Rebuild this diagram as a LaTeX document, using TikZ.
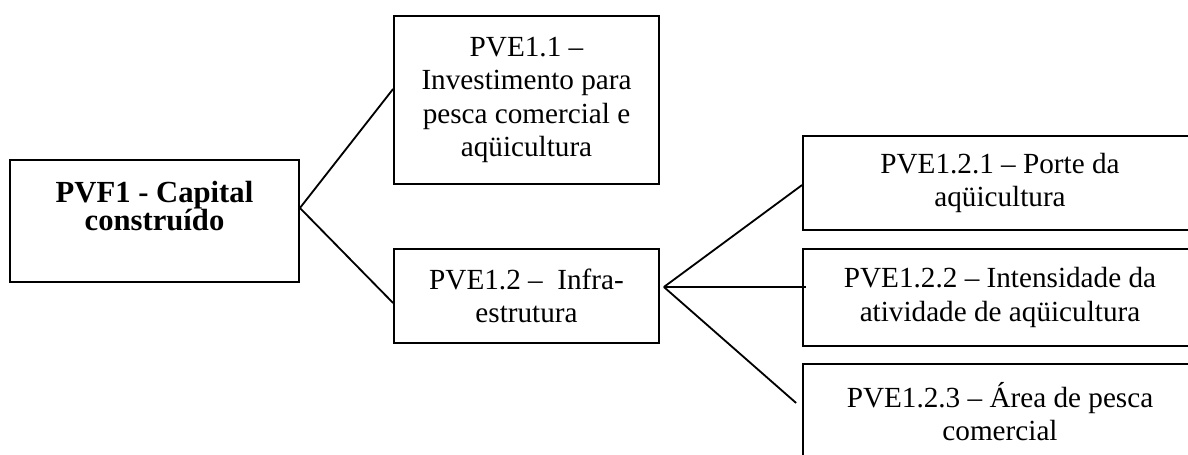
\documentclass[tikz,border=0pt]{standalone}
\usepackage{fontspec}
\setmainfont{Liberation Serif}
\usetikzlibrary{positioning}

\begin{document}
\begin{tikzpicture}[
    x=0.411pt, y=-0.411pt,
    line width=0.75pt,
    box/.style={rectangle, draw, inner sep=0pt, align=center, font={\fontsize{12}{13.6}\selectfont}},
    boxL/.style={box, minimum width=161.9pt, minimum height=38.6pt},
    boxM/.style={box, minimum width=108.9pt, minimum height=38.6pt},
    lbl/.style={inner sep=0pt, align=center, font={\fontsize{12.6}{11.5}\selectfont\bfseries\lineskiplimit=-10pt}},
  ]
  \useasboundingbox (0,0) rectangle (1188,455);

  %% ===== ROOT =====
  \node[box, minimum width=118.8pt, minimum height=50.1pt] (pvf1) at (154.5,221) {};
  \node[lbl, below=8.6pt of pvf1.north] (pvf1txt) {PVF1 - Capital\\construído};

  %% ===== FIRST LEVEL =====
  \node[boxM, minimum height=69pt] (pve11) at (526.5,100) {PVE1.1 –\\Investimento para\\pesca comercial e\\aqüicultura};
  \node[boxM] (pve12) at (526.5,296) {PVE1.2 –~ Infra-\\estrutura};

  %% ===== SECOND LEVEL =====
  \node[boxL] (pve121) at (1000,183) {PVE1.2.1 – Porte da\\aqüicultura};
  \node[boxL, minimum height=39.9pt] (pve122) at (1000,297.5) {PVE1.2.2 – Intensidade da\\atividade de aqüicultura};
  \node[boxL, minimum height=39.5pt] (pve123) at (1000,412) {PVE1.2.3 – Área de pesca\\comercial};

  %% ===== CONNECTORS =====
  \coordinate (forkA) at ([shift={(0,-13)}]pvf1.east);
  \draw (forkA) -- ([shift={(0,-11)}]pve11.west);
  \draw (forkA) -- ([shift={(0,7)}]pve12.west);

  \coordinate (forkB) at ([shift={(4,-9)}]pve12.east);
  \draw (forkB) -- ([shift={(0,2)}]pve121.west);
  \draw (forkB) -- ([shift={(4,-10.5)}]pve122.west);
  \draw (forkB) -- ([shift={(-6,-9)}]pve123.west);

\end{tikzpicture}
\end{document}
